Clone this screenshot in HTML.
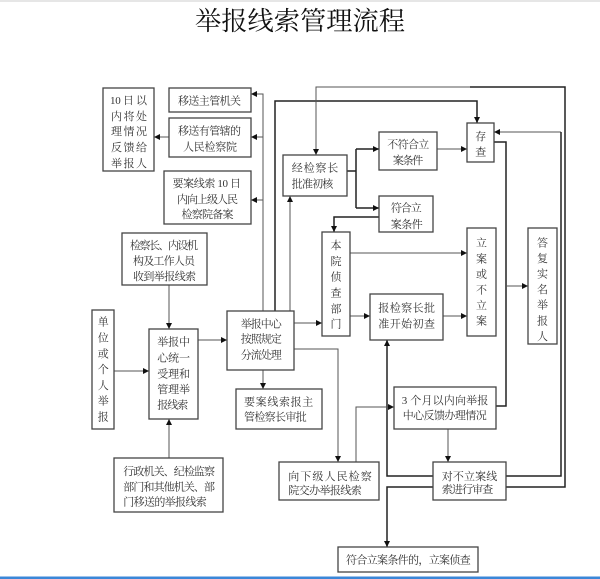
<!DOCTYPE html>
<html><head><meta charset="utf-8"><style>
html,body{margin:0;padding:0;background:#fff;}
svg{display:block;}
text{font-family:"Liberation Serif","Noto Serif CJK SC","Noto Sans CJK SC",serif;font-size:11px;fill:#333;}
.t{font-size:26px;fill:#111;font-family:"Liberation Serif","Noto Serif CJK SC",serif;}
rect.b{fill:#fff;stroke:#444;stroke-width:1.3;}
.l{fill:none;stroke:#555;stroke-width:1;}
.k{fill:none;stroke:#222;stroke-width:1.5;}
polygon{fill:#111;}
</style></head><body>
<svg width="600" height="579" viewBox="0 0 600 579" xmlns="http://www.w3.org/2000/svg">
<rect x="0" y="0" width="600" height="2" fill="#e6e6e6"/>
<rect x="0" y="576.5" width="600" height="2.5" fill="#3b87d8"/>
<text class="t" x="195" y="30" textLength="210" lengthAdjust="spacingAndGlyphs">举报线索管理流程</text>

<!-- connectors -->
<path class="l" d="M263 311 V94 H251 M263 137 H251 M263 200 H251"/>
<path class="l" d="M169 137 H154"/>
<path class="k" d="M275 311 V101 H477 V123"/>
<path class="l" d="M290 311 V196"/>
<path class="l" d="M294 323 H322"/>
<path class="l" d="M294 349 H338 V462"/>
<path class="l" d="M263 370 V389"/>
<path class="l" d="M169 285 V329"/>
<path class="l" d="M114 371 H149"/>
<path class="l" d="M198 340 H227"/>
<path class="l" d="M169 458 V419"/>
<path class="k" d="M347 171 H356 M356 149 V208 M356 149 H379 M356 208 H379"/>
<path class="k" d="M379 217 H334 V232"/>
<path class="l" d="M437 149 H467"/>
<path class="l" d="M316 155 V87 H470"/>
<path class="k" d="M470 87 H565 V487 H506"/>
<path class="l" d="M494 132 H561"/>
<path class="k" d="M561 132 V476 H506"/>
<path class="k" d="M494 142 H506 V406 H496"/>
<path class="l" d="M506 286 H528"/>
<path class="l" d="M350 253 H467"/>
<path class="l" d="M350 316 H370"/>
<path class="l" d="M443 316 H467"/>
<path class="k" d="M433 476 H387 V340"/>
<path class="k" d="M433 487 H387 V547"/>
<path class="l" d="M356 462 V407 H394"/>
<path class="l" d="M448 429 V462"/>

<!-- arrowheads -->
<polygon points="251,94 257,91 257,97"/>
<polygon points="251,137 257,134 257,140"/>
<polygon points="251,200 257,197 257,203"/>
<polygon points="154,137 160,134 160,140"/>
<polygon points="477,123 474,117 480,117"/>
<polygon points="290,196 287,202 293,202"/>
<polygon points="322,323 316,320 316,326"/>
<polygon points="338,462 335,456 341,456"/>
<polygon points="263,389 260,383 266,383"/>
<polygon points="169,329 166,323 172,323"/>
<polygon points="149,371 143,368 143,374"/>
<polygon points="227,340 221,337 221,343"/>
<polygon points="169,419 166,425 172,425"/>
<polygon points="379,149 373,146 373,152"/>
<polygon points="379,208 373,205 373,211"/>
<polygon points="334,232 331,226 337,226"/>
<polygon points="467,149 461,146 461,152"/>
<polygon points="316,155 313,149 319,149"/>
<polygon points="494,132 500,129 500,135"/>
<polygon points="528,286 522,283 522,289"/>
<polygon points="467,253 461,250 461,256"/>
<polygon points="370,316 364,313 364,319"/>
<polygon points="467,316 461,313 461,319"/>
<polygon points="387,340 384,346 390,346"/>
<polygon points="387,547 384,541 390,541"/>
<polygon points="394,407 388,404 388,410"/>
<polygon points="448,462 445,456 451,456"/>

<!-- boxes -->
<rect class="b" x="103" y="88" width="51" height="83"/>
<text x="110" y="104" textLength="37" lengthAdjust="spacing">10 日 以</text>
<text x="111" y="120" textLength="36" lengthAdjust="spacing">内将处</text>
<text x="111" y="135" textLength="36" lengthAdjust="spacing">理情况</text>
<text x="111" y="151" textLength="36" lengthAdjust="spacing">反馈给</text>
<text x="111" y="167" textLength="36" lengthAdjust="spacing">举报人</text>

<rect class="b" x="169" y="88" width="82" height="24"/>
<text x="178" y="104.5" textLength="63" lengthAdjust="spacing">移送主管机关</text>

<rect class="b" x="169" y="118" width="82" height="39"/>
<text x="178" y="134.5" textLength="63" lengthAdjust="spacing">移送有管辖的</text>
<text x="183" y="150.5" textLength="54" lengthAdjust="spacing">人民检察院</text>

<rect class="b" x="164" y="171" width="87" height="53"/>
<text x="172.5" y="187" textLength="68.5" lengthAdjust="spacing">要案线索 10 日</text>
<text x="177" y="203" textLength="61" lengthAdjust="spacing">内向上级人民</text>
<text x="181.5" y="218" textLength="52" lengthAdjust="spacing">检察院备案</text>

<rect class="b" x="122" y="233" width="85" height="52"/>
<text x="130" y="249" textLength="68" lengthAdjust="spacing">检察长、内设机</text>
<text x="133" y="264.5" textLength="62" lengthAdjust="spacing">构及工作人员</text>
<text x="133" y="280" textLength="63" lengthAdjust="spacing">收到举报线索</text>

<rect class="b" x="92" y="310" width="22" height="119"/>
<text x="103.3" y="325.7" text-anchor="middle">单</text>
<text x="103.3" y="341.5" text-anchor="middle">位</text>
<text x="103.3" y="357.3" text-anchor="middle">或</text>
<text x="103.3" y="373.1" text-anchor="middle">个</text>
<text x="103.3" y="388.9" text-anchor="middle">人</text>
<text x="103.3" y="404.7" text-anchor="middle">举</text>
<text x="103.3" y="420.5" text-anchor="middle">报</text>

<rect class="b" x="149" y="329" width="49" height="90"/>
<text x="157.3" y="345.7" textLength="32.7" lengthAdjust="spacing">举报中</text>
<text x="157.3" y="361.5" textLength="32.7" lengthAdjust="spacing">心统一</text>
<text x="157.3" y="377.3" textLength="32.7" lengthAdjust="spacing">受理和</text>
<text x="157.3" y="393" textLength="32.7" lengthAdjust="spacing">管理举</text>
<text x="157.3" y="408.5" textLength="31" lengthAdjust="spacing">报线索</text>

<rect class="b" x="227" y="311" width="67" height="59"/>
<text x="240.7" y="327.3" textLength="41" lengthAdjust="spacing">举报中心</text>
<text x="240.7" y="342.3" textLength="41" lengthAdjust="spacing">按照规定</text>
<text x="240.7" y="358.3" textLength="41" lengthAdjust="spacing">分流处理</text>

<rect class="b" x="236" y="389" width="86" height="40"/>
<text x="244" y="405.7" textLength="69.3" lengthAdjust="spacing">要案线索报主</text>
<text x="244" y="420.7" textLength="62.7" lengthAdjust="spacing">管检察长审批</text>

<rect class="b" x="114" y="458" width="109" height="54"/>
<text x="123.3" y="475" textLength="91.7" lengthAdjust="spacing">行政机关、纪检监察</text>
<text x="123.3" y="490.7" textLength="91.7" lengthAdjust="spacing">部门和其他机关、部</text>
<text x="123.3" y="505.7" textLength="83.4" lengthAdjust="spacing">门移送的举报线索</text>

<rect class="b" x="283" y="155" width="64" height="41"/>
<text x="291.7" y="171.7" textLength="46.6" lengthAdjust="spacing">经检察长</text>
<text x="291.7" y="187.3" textLength="41.6" lengthAdjust="spacing">批准初核</text>

<rect class="b" x="379" y="132" width="58" height="38"/>
<text x="387.3" y="148" textLength="42" lengthAdjust="spacing">不符合立</text>
<text x="392.7" y="164" textLength="30.6" lengthAdjust="spacing">案条件</text>

<rect class="b" x="379" y="196" width="54" height="36"/>
<text x="390.7" y="211.7" textLength="31" lengthAdjust="spacing">符合立</text>
<text x="390.7" y="228" textLength="32" lengthAdjust="spacing">案条件</text>

<rect class="b" x="322" y="232" width="28" height="104"/>
<text x="336" y="249" text-anchor="middle">本</text>
<text x="336" y="265" text-anchor="middle">院</text>
<text x="336" y="280.7" text-anchor="middle">侦</text>
<text x="336" y="296.3" text-anchor="middle">查</text>
<text x="336" y="312.3" text-anchor="middle">部</text>
<text x="336" y="327.3" text-anchor="middle">门</text>

<rect class="b" x="370" y="294" width="73" height="46"/>
<text x="378.3" y="311.3" textLength="56.7" lengthAdjust="spacing">报检察长批</text>
<text x="378.3" y="327.3" textLength="56.7" lengthAdjust="spacing">准开始初查</text>

<rect class="b" x="467" y="123" width="27" height="39"/>
<text x="480.7" y="140" text-anchor="middle">存</text>
<text x="480.7" y="155.7" text-anchor="middle">查</text>

<rect class="b" x="467" y="228" width="29" height="108"/>
<text x="481.5" y="246.3" text-anchor="middle">立</text>
<text x="481.5" y="262.3" text-anchor="middle">案</text>
<text x="481.5" y="278" text-anchor="middle">或</text>
<text x="481.5" y="293.3" text-anchor="middle">不</text>
<text x="481.5" y="309" text-anchor="middle">立</text>
<text x="481.5" y="324.7" text-anchor="middle">案</text>

<rect class="b" x="528" y="228" width="29" height="116"/>
<text x="542.5" y="246.3" text-anchor="middle">答</text>
<text x="542.5" y="261.9" text-anchor="middle">复</text>
<text x="542.5" y="277.5" text-anchor="middle">实</text>
<text x="542.5" y="293.1" text-anchor="middle">名</text>
<text x="542.5" y="308.7" text-anchor="middle">举</text>
<text x="542.5" y="324.3" text-anchor="middle">报</text>
<text x="542.5" y="339.9" text-anchor="middle">人</text>

<rect class="b" x="394" y="387" width="102" height="42"/>
<text x="401.7" y="404" textLength="86.6" lengthAdjust="spacing">3 个月以内向举报</text>
<text x="402.7" y="419" textLength="84" lengthAdjust="spacing">中心反馈办理情况</text>

<rect class="b" x="433" y="462" width="73" height="38"/>
<text x="441.7" y="480" textLength="55.6" lengthAdjust="spacing">对不立案线</text>
<text x="441.7" y="493" textLength="51.6" lengthAdjust="spacing">索进行审查</text>

<rect class="b" x="279" y="462" width="100" height="38"/>
<text x="288.3" y="480" textLength="83.4" lengthAdjust="spacing">向下级人民检察</text>
<text x="288.3" y="494" textLength="73.4" lengthAdjust="spacing">院交办举报线索</text>

<rect class="b" x="338" y="547" width="140" height="25"/>
<text x="346" y="563.3" textLength="124.7" lengthAdjust="spacing">符合立案条件的，立案侦查</text>
</svg>
</body></html>
